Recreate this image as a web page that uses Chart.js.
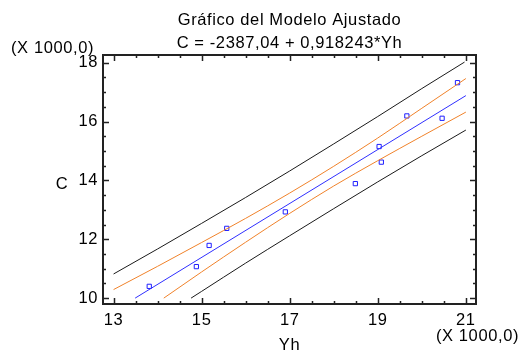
<!DOCTYPE html>
<html>
<head>
<meta charset="utf-8">
<script src="https://cdn.jsdelivr.net/npm/chart.js@4/dist/chart.umd.min.js"></script>
<style>
html,body{margin:0;padding:0;background:#fff;}
#wrap{width:519px;height:351px;position:relative;}
</style>
</head>
<body>
<div id="wrap"><canvas id="c" width="519" height="351"></canvas></div>
<script>
// Values in thousands (axes show "X 1000,0")
const xTickValues = [13, 15, 17, 19, 21];
const yTickValues = [10, 12, 14, 16, 18];

// Observed points
const obsYh = [13.81, 14.88, 15.17, 15.57, 16.90, 18.49, 19.08, 19.03, 19.66, 20.46, 20.81];
const obsC  = [10.40, 11.07, 11.79, 12.37, 12.93, 13.89, 14.62, 15.15, 16.19, 16.11, 17.32];

// Fitted line
const fitYh = [13.49, 21.0];
const fitC  = [10.0, 16.88];

// Confidence limits (orange)
const confUpYh = [13, 14, 15, 16, 17, 18, 19, 20, 21];
const confUpC  = [10.29, 11.08, 11.89, 12.71, 13.57, 14.48, 15.44, 16.45, 17.46];
const confLoYh = [14.14, 15, 16, 17, 18, 19, 20, 21];
const confLoC  = [10.00, 10.89, 11.90, 12.88, 13.81, 14.67, 15.50, 16.32];

// Prediction limits (black)
const predUpYh = [13, 14, 15, 16, 17, 18, 19, 20, 20.97];
const predUpC  = [10.82, 11.67, 12.54, 13.42, 14.32, 15.24, 16.17, 17.12, 18.02];
const predLoYh = [14.76, 15, 16, 17, 18, 19, 20, 21];
const predLoC  = [10.00, 10.23, 11.19, 12.12, 13.04, 13.95, 14.84, 15.71];

const titleLines = ["Gráfico del Modelo Ajustado", "C = -2387,04 + 0,918243*Yh"];
const xTitle = "Yh";
const yTitle = "C";
const unitLabel = "(X 1000,0)";

const FONT = "'Liberation Sans', Arial, sans-serif";
const FSIZE = 16.5;
const SPACING = '0.6px';
const pts = (xs, ys) => xs.map((x, i) => ({x: x, y: ys[i]}));

const lineDs = (label, xs, ys, color) => ({
  type: 'line', label, data: pts(xs, ys), borderColor: color, borderWidth: 1,
  pointRadius: 0, fill: false, cubicInterpolationMode: 'monotone'
});

const spacing = {
  id: 'spacing',
  beforeUpdate(chart) { chart.ctx.letterSpacing = SPACING; },
  beforeLayout(chart) { chart.ctx.letterSpacing = SPACING; },
  beforeDraw(chart) { chart.ctx.letterSpacing = SPACING; }
};

const decor = {
  id: 'decor',
  afterDraw(chart) {
    const ctx = chart.ctx, a = chart.chartArea;
    const xs = chart.scales.x, ys = chart.scales.y;
    ctx.save();
    ctx.strokeStyle = '#222';
    ctx.lineWidth = 1.5;
    const major = 6, minor = 3;
    for (let v = 13; v <= 21.001; v += 0.5) {
      const p = Math.round(xs.getPixelForValue(v)) + 0.5;
      const L = (Math.abs(v - Math.round(v)) < 1e-6 && Math.round(v) % 2 === 1) ? major : minor;
      ctx.beginPath();
      ctx.moveTo(p, a.bottom); ctx.lineTo(p, a.bottom - L);
      ctx.moveTo(p, a.top); ctx.lineTo(p, a.top + L);
      ctx.stroke();
    }
    for (let v = 10; v <= 18.001; v += 0.5) {
      const p = Math.round(ys.getPixelForValue(v)) + 0.5;
      const L = (Math.abs(v - Math.round(v)) < 1e-6 && Math.round(v) % 2 === 0) ? major : minor;
      ctx.beginPath();
      ctx.moveTo(a.left, p); ctx.lineTo(a.left + L, p);
      ctx.moveTo(a.right, p); ctx.lineTo(a.right - L, p);
      ctx.stroke();
    }
    ctx.lineWidth = 2;
    ctx.strokeRect(a.left, a.top, a.right - a.left, a.bottom - a.top);
    ctx.fillStyle = '#000';
    ctx.font = FSIZE + 'px ' + FONT;
    ctx.letterSpacing = SPACING;
    ctx.textBaseline = 'alphabetic';
    ctx.textAlign = 'center';
    const cx = (a.left + a.right) / 2;
    ctx.fillText(titleLines[0], cx, 25);
    ctx.fillText(titleLines[1], cx, 48);
    ctx.fillText(xTitle, cx, 350);
    ctx.fillText(yTitle, 62, 189);
    ctx.textAlign = 'left';
    ctx.fillText(unitLabel, 11, 53);
    ctx.textAlign = 'right';
    ctx.fillText(unitLabel, 519, 341);
    ctx.restore();
  }
};

new Chart(document.getElementById('c'), {
  type: 'scatter',
  data: {
    datasets: [
      lineDs('pred upper', predUpYh, predUpC, '#1a1a1a'),
      lineDs('pred lower', predLoYh, predLoC, '#1a1a1a'),
      lineDs('conf upper', confUpYh, confUpC, '#f0822a'),
      lineDs('conf lower', confLoYh, confLoC, '#f0822a'),
      lineDs('fit', fitYh, fitC, '#2f2fff'),
      {
        type: 'scatter', label: 'obs', data: pts(obsYh, obsC),
        pointStyle: 'rect', pointRadius: 3, borderWidth: 1,
        borderColor: '#1f1fff', backgroundColor: 'rgba(0,0,0,0)'
      }
    ]
  },
  options: {
    responsive: false,
    animation: false,
    devicePixelRatio: 1,
    layout: { padding: { top: 55, right: 43, left: 0, bottom: 0 } },
    plugins: { legend: { display: false }, title: { display: false }, tooltip: { enabled: false } },
    scales: {
      x: {
        type: 'linear', min: 12.76, max: 21.23,
        afterFit(s) { s.height = 47; },
        afterBuildTicks(s) { s.ticks = xTickValues.map(v => ({value: v})); },
        grid: { display: false, drawTicks: false },
        border: { display: false },
        ticks: { color: '#000', font: { family: FONT, size: FSIZE }, padding: 7, maxRotation: 0 }
      },
      y: {
        type: 'linear', min: 9.8, max: 18.26,
        afterFit(s) { s.width = 103; },
        afterBuildTicks(s) { s.ticks = yTickValues.map(v => ({value: v})); },
        grid: { display: false, drawTicks: false },
        border: { display: false },
        ticks: { color: '#000', font: { family: FONT, size: FSIZE }, padding: 5 }
      }
    }
  },
  plugins: [spacing, decor]
});
</script>
</body>
</html>
